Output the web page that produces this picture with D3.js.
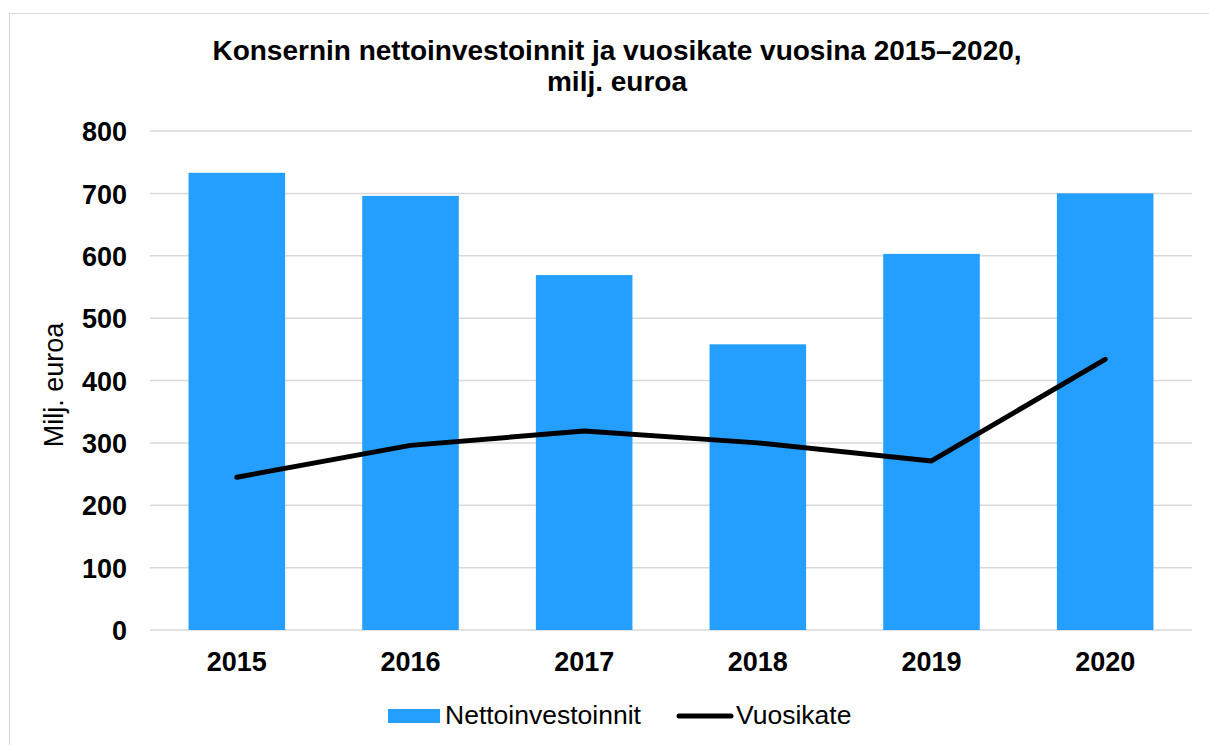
<!DOCTYPE html>
<html>
<head>
<meta charset="utf-8">
<script src="https://cdn.jsdelivr.net/npm/d3@7"></script>
<style>
body { margin: 0; background: #fff; }
svg { font-family: "Liberation Sans", Arial, sans-serif; }
</style>
</head>
<body>
<script>
var years = ["2015", "2016", "2017", "2018", "2019", "2020"];
var netInvest = [733, 696, 569, 458, 603, 700];
var vuosikate = [245, 296, 319, 300, 271, 434];
var yTicks = [0, 100, 200, 300, 400, 500, 600, 700, 800];

var w = 1209, h = 745;
var plotLeft = 150, plotRight = 1192, plotTop = 131, plotBottom = 630;

var svg = d3.select("body").append("svg")
    .attr("width", w)
    .attr("height", h);

// chart border
svg.append("rect")
    .attr("x", 9.5).attr("y", 13.5)
    .attr("width", 1210).attr("height", 740)
    .attr("fill", "none")
    .attr("stroke", "#d9d9d9")
    .attr("stroke-width", 1);

var x = d3.scaleBand().domain(years).range([plotLeft, plotRight]).paddingInner(0.444).paddingOuter(0.222);
var y = d3.scaleLinear().domain([0, 800]).range([plotBottom, plotTop]);

// gridlines
svg.selectAll("line.grid")
    .data(yTicks)
    .enter()
    .append("line")
    .attr("class", "grid")
    .attr("x1", plotLeft).attr("x2", plotRight)
    .attr("y1", function(d){ return y(d); })
    .attr("y2", function(d){ return y(d); })
    .attr("stroke", "#d9d9d9")
    .attr("stroke-width", 1.5);

// y axis labels
var yAxis = d3.axisLeft(y).tickValues(yTicks).tickSize(0).tickPadding(0);
var gy = svg.append("g").attr("transform", "translate(127,0)").call(yAxis);
gy.select(".domain").remove();
gy.selectAll("text")
    .attr("font-family", "Liberation Sans, Arial, sans-serif")
    .attr("font-size", 27)
    .attr("font-weight", "bold")
    .attr("dy", "0.36em")
    .attr("fill", "#000");

// x axis labels
var xAxis = d3.axisBottom(x).tickSize(0).tickPadding(0);
var gx = svg.append("g").attr("transform", "translate(0,671)").call(xAxis);
gx.select(".domain").remove();
gx.selectAll("text")
    .attr("font-family", "Liberation Sans, Arial, sans-serif")
    .attr("font-size", 27)
    .attr("font-weight", "bold")
    .attr("dy", 0)
    .attr("fill", "#000");

// bars
svg.selectAll("rect.bar")
    .data(netInvest)
    .enter()
    .append("rect")
    .attr("class", "bar")
    .attr("x", function(d, i){ return x(years[i]); })
    .attr("y", function(d){ return y(d); })
    .attr("width", x.bandwidth())
    .attr("height", function(d){ return y(0) - y(d); })
    .attr("fill", "#259fff");

// line
var line = d3.line()
    .x(function(d, i){ return x(years[i]) + x.bandwidth() / 2; })
    .y(function(d){ return y(d); });
svg.append("path")
    .datum(vuosikate)
    .attr("d", line)
    .attr("fill", "none")
    .attr("stroke", "#000")
    .attr("stroke-width", 5)
    .attr("stroke-linecap", "round")
    .attr("stroke-linejoin", "round");

// title
var title = svg.append("text")
    .attr("text-anchor", "middle")
    .attr("font-size", 28)
    .attr("font-weight", "bold")
    .attr("fill", "#000");
title.append("tspan").attr("x", 617).attr("y", 60).text("Konsernin nettoinvestoinnit ja vuosikate vuosina 2015\u20132020,");
title.append("tspan").attr("x", 617).attr("y", 91).text("milj. euroa");

// y axis title
svg.append("text")
    .attr("transform", "translate(63,385) rotate(-90)")
    .attr("text-anchor", "middle")
    .attr("font-size", 27)
    .attr("fill", "#000")
    .text("Milj. euroa");

// legend
svg.append("rect")
    .attr("x", 388).attr("y", 709)
    .attr("width", 52).attr("height", 14)
    .attr("fill", "#259fff");
svg.append("text")
    .attr("x", 445).attr("y", 724)
    .attr("font-size", 26.5)
    .attr("fill", "#000")
    .text("Nettoinvestoinnit");
svg.append("line")
    .attr("x1", 679).attr("x2", 731)
    .attr("y1", 716).attr("y2", 716)
    .attr("stroke", "#000")
    .attr("stroke-width", 5)
    .attr("stroke-linecap", "round");
svg.append("text")
    .attr("x", 736).attr("y", 724)
    .attr("font-size", 26.5)
    .attr("fill", "#000")
    .text("Vuosikate");
</script>
</body>
</html>
